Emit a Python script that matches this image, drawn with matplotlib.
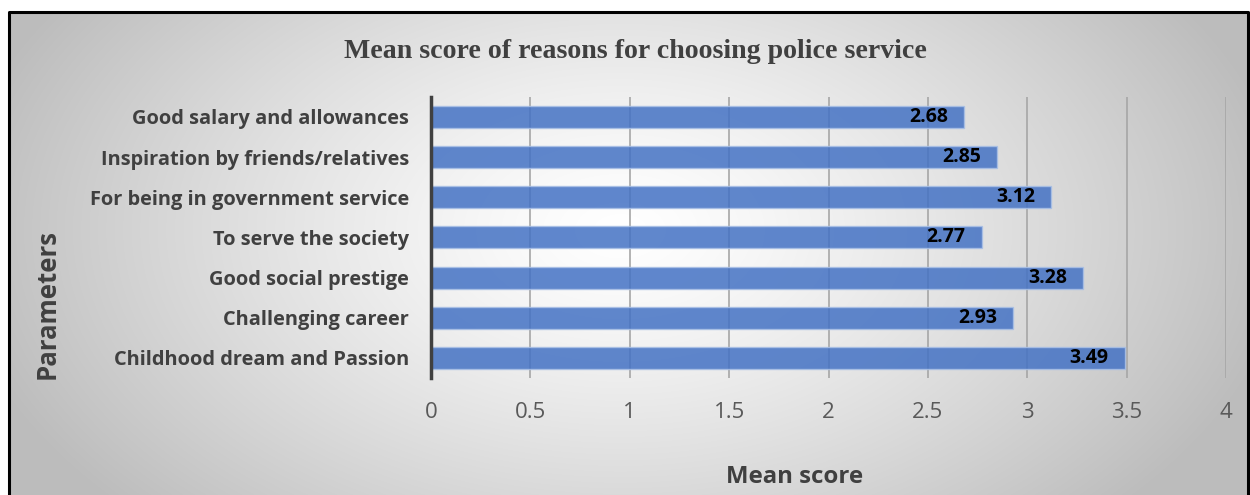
import numpy as np
import matplotlib
matplotlib.use("Agg")
import matplotlib.pyplot as plt

# dados do grafico (de cima para baixo)
parametros = [
    "Good salary and allowances",
    "Inspiration by friends/relatives",
    "For being in government service",
    "To serve the society",
    "Good social prestige",
    "Challenging career",
    "Childhood dream and Passion",
]
medias = [2.68, 2.85, 3.12, 2.77, 3.28, 2.93, 3.49]
ticks_x = [0, 0.5, 1, 1.5, 2, 2.5, 3, 3.5, 4]
rotulos_x = ["0", "0.5", "1", "1.5", "2", "2.5", "3", "3.5", "4"]

fig = plt.figure(figsize=(12.5, 4.95), dpi=100)

# fundo com gradiente radial
bg = fig.add_axes([0, 0, 1, 1])
yy, xx = np.mgrid[0:495, 0:1250]
d = np.sqrt(((xx - 620) / 650.0) ** 2 + ((yy - 230) / 400.0) ** 2)
val = np.clip(1.0 - 0.25 * d ** 1.3, 0.74, 1.0)
img = np.dstack([val, val, val])
img[:12, :, :] = 1.0
img[:, :8, :] = 1.0
bg.imshow(img, extent=[0, 1, 0, 1], aspect="auto", zorder=0)
bg.plot([0.0075, 0.0075, 0.9985, 0.9985], [0.0, 0.9765, 0.9765, 0.0],
        color="black", lw=2.2, transform=bg.transAxes, clip_on=False)
bg.set_xlim(0, 1)
bg.set_ylim(0, 1)
bg.axis("off")

ax = fig.add_axes([0.3448, 0.2364, 0.636, 0.568])
ax.patch.set_alpha(0)

y = np.arange(len(parametros))
ax.barh(y, medias, height=0.55, color="#4472C4", alpha=0.85,
        edgecolor="#a9c0e6", linewidth=1, zorder=3)

for yi, v in zip(y, medias):
    ax.text(v - 0.08, yi, f"{v:.2f}", ha="right", va="center",
            fontsize=14, fontweight="bold", color="black",
            family="Open Sans", zorder=4)

ax.set_xlim(0, 4)
ax.set_ylim(len(parametros) - 0.5, -0.5)
ax.set_xticks(ticks_x)
ax.set_xticklabels(rotulos_x, fontsize=16, color="#595959", family="Open Sans")
ax.set_yticks(y)
ax.set_yticklabels(parametros, fontsize=14.4, fontweight="bold",
                   color="#404040", family="Open Sans")
ax.tick_params(axis="both", length=0)
ax.tick_params(axis="x", pad=17)
ax.tick_params(axis="y", pad=16)

ax.grid(axis="x", color="#a6a6a6", lw=1.2, zorder=1)
for s in ["top", "right", "bottom"]:
    ax.spines[s].set_visible(False)
ax.spines["left"].set_color("#404040")
ax.spines["left"].set_linewidth(2.5)
ax.spines["left"].set_zorder(5)

fig.text(0.508, 0.895, "Mean score of reasons for choosing police service",
         ha="center", va="center", fontsize=20.1, fontweight="bold",
         color="#404040", family="Liberation Serif")
fig.text(0.038, 0.385, "Parameters", rotation=90, ha="center", va="center",
         fontsize=18.5, fontweight="bold", color="#404040", family="Open Sans")
fig.text(0.636, 0.036, "Mean score", ha="center", va="center",
         fontsize=17.3, fontweight="bold", color="#404040", family="Open Sans")

fig.savefig("out.png", dpi=100)
